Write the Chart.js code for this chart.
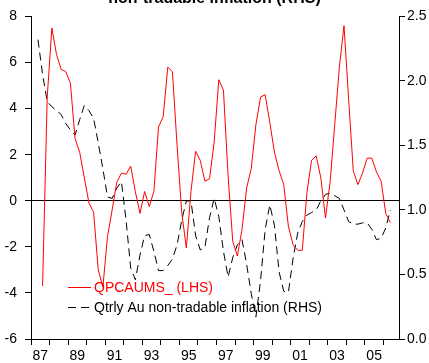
<!DOCTYPE html>
<html>
<head>
<meta charset="utf-8">
<script src="https://cdn.jsdelivr.net/npm/chart.js@4/dist/chart.umd.min.js"></script>
<style>
  html, body { margin: 0; padding: 0; background: #fff; }
  #wrap { width: 429px; height: 363px; }
</style>
</head>
<body>
<div id="wrap"><canvas id="chart" width="429" height="363"></canvas></div>
<script>
// quarterly observations, 1987Q2 .. 2006Q2
const firstQuarter = [1987, 2];
const lastQuarter = [2006, 2];

// QPCAUMS_ (LHS)
const qpcaums = [
  null, -3.7, 4.5,
  7.5, 6.35, 5.7, 5.6,
  5.1, 2.7, 2.1, 1.0,
  -0.1, -0.5, -3.0, -3.75,
  -1.55, -0.4, 0.8, 1.2,
  1.15, 1.5, 0.4, -0.55,
  0.4, -0.25, 0.4, 3.2,
  3.65, 5.8, 5.6, 2.4,
  -0.5, -2.05, 0.4, 2.15,
  1.75, 0.85, 0.95, 2.55,
  5.25, 4.8, 1.1, -1.75,
  -2.4, -1.25, 0.55, 1.4,
  3.3, 4.5, 4.6, 3.4,
  2.1, 1.3, 0.7, -1.1,
  -1.9, -2.15, -2.15, 0.35,
  1.75, 1.95, 1.0, -0.75,
  0.8, 3.3, 5.8, 7.6,
  4.4, 1.3, 0.7, 1.2,
  1.85, 1.85, 1.25, 0.85,
  -0.55, -0.95
];

// Qtrly Au non-tradable inflation (RHS)
const nonTradable = [
  2.32, 2.05, 1.84,
  1.80, 1.77, 1.74, 1.67,
  1.62, 1.58, 1.70, 1.81,
  1.77, 1.71, 1.52, 1.32,
  1.10, 1.09, 1.17, 1.22,
  0.92, 0.55, 0.46, 0.65,
  0.80, 0.81, 0.68, 0.53,
  0.53, 0.57, 0.62, 0.73,
  0.92, 1.07, 1.07, 0.80,
  0.69, 0.71, 0.94, 1.09,
  0.95, 0.68, 0.48, 0.63,
  0.73, 0.77, 0.58, 0.35,
  0.17, 0.45, 0.85, 1.04,
  0.88, 0.52, 0.37, 0.36,
  0.62, 0.82, 0.91, 0.96,
  0.98, 1.00, 1.07, 1.12,
  1.13, 1.11, 1.09, 1.00,
  0.91, 0.89, 0.89, 0.90,
  0.90, 0.85, 0.77, 0.78,
  0.86, 1.00
];

const labelYears = [1987, 1989, 1991, 1993, 1995, 1997, 1999, 2001, 2003, 2005];
const titleText = 'non-tradable inflation (RHS)';

const quarters = [];
for (let y = firstQuarter[0], q = firstQuarter[1]; y < lastQuarter[0] || (y === lastQuarter[0] && q <= lastQuarter[1]); ) {
  quarters.push(y + 'Q' + q);
  q++;
  if (q > 4) { q = 1; y++; }
}

// position a quarter in the middle of its slot on the year axis
function quarterX(label) {
  const parts = label.split('Q');
  return Number(parts[0]) + (Number(parts[1]) - 0.5) / 4;
}

Chart.defaults.font.family = "'Liberation Sans', Arial, sans-serif";
Chart.defaults.font.size = 14;
Chart.defaults.color = '#000';

const legendPlugin = {
  id: 'insideLegend',
  afterDraw(chart) {
    const ctx = chart.ctx;
    const area = chart.chartArea;
    const x0 = area.left + 37;
    let y = area.bottom - 52;
    ctx.save();
    ctx.font = "14px 'Liberation Sans', Arial, sans-serif";
    ctx.textBaseline = 'middle';
    chart.data.datasets.forEach(ds => {
      ctx.strokeStyle = ds.borderColor;
      ctx.lineWidth = 1;
      ctx.setLineDash(ds.borderDash || []);
      ctx.beginPath();
      ctx.moveTo(x0, y + 0.5);
      ctx.lineTo(x0 + 23, y + 0.5);
      ctx.stroke();
      ctx.setLineDash([]);
      ctx.fillStyle = ds.borderColor;
      ctx.fillText(ds.label, x0 + 26, y + 1);
      y += 20;
    });
    ctx.restore();
  }
};

const titlePlugin = {
  id: 'cutTitle',
  afterDraw(chart) {
    const ctx = chart.ctx;
    ctx.save();
    ctx.font = "bold 16px 'Liberation Sans', Arial, sans-serif";
    ctx.fillStyle = '#000';
    ctx.textAlign = 'center';
    ctx.textBaseline = 'alphabetic';
    ctx.fillText(titleText, 214.5, 3);
    ctx.restore();
  }
};

const ctx = document.getElementById('chart').getContext('2d');
new Chart(ctx, {
  type: 'line',
  data: {
    datasets: [{
      label: 'QPCAUMS_ (LHS)',
      data: quarters.map((q, i) => ({ x: quarterX(q), y: qpcaums[i] })),
      borderColor: '#ff0000',
      borderWidth: 1,
      pointRadius: 0,
      tension: 0,
      yAxisID: 'y'
    }, {
      label: 'Qtrly Au non-tradable inflation (RHS)',
      data: quarters.map((q, i) => ({ x: quarterX(q), y: nonTradable[i] })),
      borderColor: '#000000',
      borderWidth: 1,
      borderDash: [8, 5],
      pointRadius: 0,
      tension: 0,
      yAxisID: 'y1'
    }]
  },
  options: {
    responsive: false,
    animation: false,
    devicePixelRatio: 1,
    layout: { padding: { top: 13, left: 0, right: 0, bottom: 0 } },
    plugins: {
      legend: { display: false },
      title: { display: false },
      tooltip: { enabled: false }
    },
    scales: {
      x: {
        type: 'linear',
        position: 'bottom',
        min: 1987,
        max: 2006.84,
        afterBuildTicks: axis => {
          const t = [];
          for (let v = 1987; v <= 2006.5; v += 0.5) t.push({ value: v });
          axis.ticks = t;
        },
        afterFit: scale => { scale.height = 24; },
        ticks: {
          autoSkip: false,
          maxRotation: 0,
          padding: 3,
          callback: v => labelYears.includes(v - 0.5) ? String(v - 0.5).slice(2) : ''
        },
        grid: {
          drawOnChartArea: false,
          tickLength: 6,
          tickColor: c => Number.isInteger(c.tick.value) ? '#000' : 'rgba(0,0,0,0)'
        },
        border: { color: '#000' }
      },
      y: {
        position: 'left',
        min: -6,
        max: 8,
        afterFit: scale => { scale.width = 31; },
        ticks: { stepSize: 2, padding: 8 },
        grid: {
          tickLength: 6,
          tickColor: '#000',
          color: c => c.tick.value === 0 ? '#000' : 'rgba(0,0,0,0)'
        },
        border: { color: '#000' }
      },
      y1: {
        position: 'right',
        min: 0,
        max: 2.5,
        afterFit: scale => { scale.width = 30; },
        ticks: { stepSize: 0.5, padding: 2, callback: v => v.toFixed(1) },
        grid: { drawOnChartArea: false, tickLength: 6, tickColor: '#000' },
        border: { color: '#000' }
      }
    }
  },
  plugins: [legendPlugin, titlePlugin]
});
</script>
</body>
</html>
